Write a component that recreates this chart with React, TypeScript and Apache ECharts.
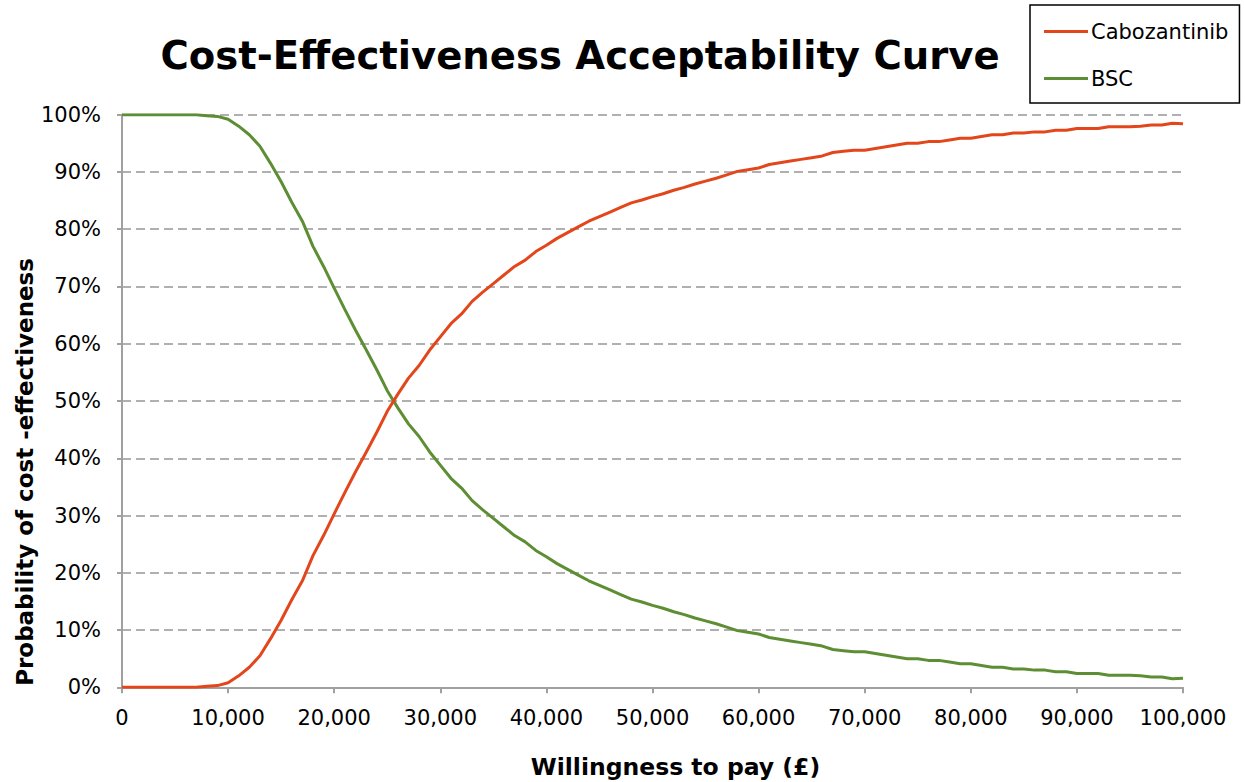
import React, { useEffect, useRef } from "react";
import * as echarts from "echarts";

// Willingness to pay (£), in steps of 1,000
const wtp: number[] = Array.from({ length: 101 }, (_, i) => i * 1000);

const cabozantinib: number[] = [
  0, 0, 0, 0, 0, 0, 0, 0, 0.2, 0.3,
  0.8, 2.0, 3.5, 5.5, 8.5, 11.7, 15.3, 18.6, 23.0, 26.5,
  30.3, 34.0, 37.6, 41.0, 44.5, 48.2, 51.2, 54.0, 56.2, 58.9,
  61.2, 63.5, 65.2, 67.4, 69.0, 70.5, 72.0, 73.5, 74.6, 76.1,
  77.2, 78.4, 79.4, 80.4, 81.4, 82.2, 83.0, 83.8, 84.6, 85.1,
  85.7, 86.2, 86.8, 87.3, 87.9, 88.4, 88.9, 89.5, 90.1, 90.4,
  90.7, 91.3, 91.6, 91.9, 92.2, 92.5, 92.8, 93.4, 93.6, 93.8,
  93.8, 94.1, 94.4, 94.7, 95.0, 95.0, 95.3, 95.3, 95.6, 95.9,
  95.9, 96.2, 96.5, 96.5, 96.8, 96.8, 97.0, 97.0, 97.3, 97.3,
  97.6, 97.6, 97.6, 97.9, 97.9, 97.9, 98.0, 98.2, 98.2, 98.5,
  98.4,
];

const bsc: number[] = [
  100, 100, 100, 100, 100, 100, 100, 100, 99.8, 99.7,
  99.2, 98.0, 96.5, 94.5, 91.5, 88.3, 84.7, 81.4, 77.0, 73.5,
  69.7, 66.0, 62.4, 59.0, 55.5, 51.8, 48.8, 46.0, 43.8, 41.1,
  38.8, 36.5, 34.8, 32.6, 31.0, 29.5, 28.0, 26.5, 25.4, 23.9,
  22.8, 21.6, 20.6, 19.6, 18.6, 17.8, 17.0, 16.2, 15.4, 14.9,
  14.3, 13.8, 13.2, 12.7, 12.1, 11.6, 11.1, 10.5, 9.9, 9.6,
  9.3, 8.7, 8.4, 8.1, 7.8, 7.5, 7.2, 6.6, 6.4, 6.2,
  6.2, 5.9, 5.6, 5.3, 5.0, 5.0, 4.7, 4.7, 4.4, 4.1,
  4.1, 3.8, 3.5, 3.5, 3.2, 3.2, 3.0, 3.0, 2.7, 2.7,
  2.4, 2.4, 2.4, 2.1, 2.1, 2.1, 2.0, 1.8, 1.8, 1.5,
  1.6,
];

const seriesNames = ["Cabozantinib", "BSC"];
const titleText = "Cost-Effectiveness Acceptability Curve";
const xTitle = "Willingness to pay (£)";
const yTitle = "Probability of cost -effectiveness";

const FONT = "'DejaVu Sans', Verdana, sans-serif";

export default function App() {
  const ref = useRef<HTMLDivElement>(null);

  useEffect(() => {
    if (!ref.current) return;
    const chart = echarts.init(ref.current, undefined, { renderer: "svg" });
    const toPairs = (ys: number[]) => wtp.map((x, i) => [x, ys[i]]);
    const axisGray = "#A0A0A0";

    chart.setOption({
      animation: false,
      backgroundColor: "#ffffff",
      textStyle: { fontFamily: FONT },
      title: {
        text: titleText,
        left: 575,
        top: 31,
        textAlign: "center",
        textStyle: {
          fontFamily: FONT,
          fontSize: 38.6,
          fontWeight: "bold",
          color: "#000",
        },
      },
      legend: {
        orient: "vertical",
        left: 1030,
        top: 5,
        padding: [16, 11, 14, 14],
        itemGap: 26,
        itemWidth: 44,
        itemHeight: 3,
        borderColor: "#000",
        borderWidth: 1.5,
        borderRadius: 0,
        icon: "rect",
        textStyle: { fontFamily: FONT, fontSize: 21, color: "#000", padding: [0, 0, 0, -2] },
        data: seriesNames,
      },
      graphic: [
        {
          type: "text",
          left: 13,
          top: 258,
          rotation: Math.PI / 2,
          style: {
            text: yTitle,
            fontFamily: FONT,
            fontSize: 23,
            fontWeight: "bold",
            fill: "#000",
          },
        },
      ],
      grid: {
        left: 122,
        right: 62,
        top: 114.7,
        bottom: 94.7,
        containLabel: false,
        outerBoundsMode: "none",
      },
      xAxis: {
        type: "value",
        min: 0,
        max: 100000,
        interval: 10000,
        name: xTitle,
        nameLocation: "middle",
        nameGap: 68,
        nameTextStyle: {
          fontFamily: FONT,
          fontSize: 23.5,
          fontWeight: "bold",
          color: "#000",
          padding: [0, 0, 0, 46],
        },
        axisLine: { show: true, lineStyle: { color: axisGray, width: 2 } },
        axisTick: { show: true, length: 6, lineStyle: { color: axisGray, width: 2 } },
        axisLabel: {
          fontFamily: FONT,
          fontSize: 21,
          color: "#000",
          margin: 20,
          formatter: (v: number) => v.toLocaleString("en-US"),
        },
        splitLine: { show: false },
      },
      yAxis: {
        type: "value",
        min: 0,
        max: 100,
        interval: 10,
        axisLine: { show: true, lineStyle: { color: axisGray, width: 2 } },
        axisTick: { show: true, length: 5, lineStyle: { color: axisGray, width: 2 } },
        axisLabel: {
          fontFamily: FONT,
          fontSize: 21,
          color: "#000",
          margin: 21,
          formatter: "{value}%",
        },
        splitLine: {
          show: true,
          lineStyle: { color: "#979797", width: 1.6, type: [9, 5] },
        },
      },
      series: [
        {
          name: seriesNames[0],
          type: "line",
          data: toPairs(cabozantinib),
          showSymbol: false,
          symbol: "none",
          lineStyle: { color: "#E2461A", width: 3 },
          itemStyle: { color: "#E2461A" },
          z: 3,
        },
        {
          name: seriesNames[1],
          type: "line",
          data: toPairs(bsc),
          showSymbol: false,
          symbol: "none",
          lineStyle: { color: "#5E8E33", width: 3 },
          itemStyle: { color: "#5E8E33" },
          z: 2,
        },
      ],
    });

    return () => chart.dispose();
  }, []);

  return (
    <div
      ref={ref}
      style={{ position: "absolute", left: 0, top: 0, width: 1245, height: 782 }}
    />
  );
}
